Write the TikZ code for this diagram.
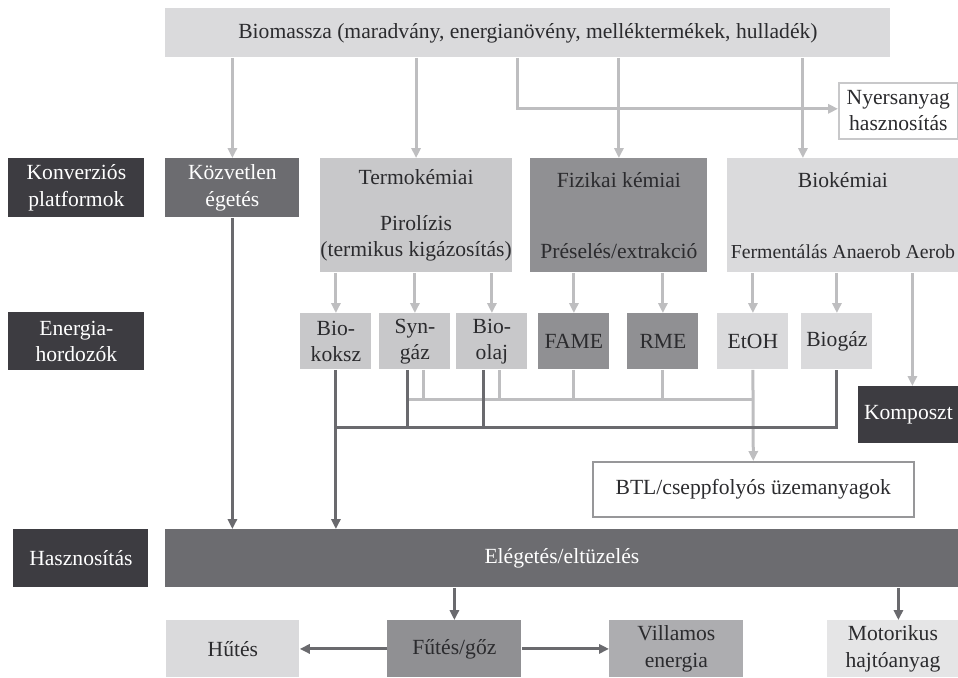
\documentclass[tikz,border=0pt]{standalone}
\usepackage{fontspec}
\setmainfont{Liberation Serif}
\usepackage{xcolor}
\usetikzlibrary{arrows.meta, positioning}
\definecolor{sotet}{HTML}{3D3C41}
\definecolor{kozepsotet}{HTML}{6C6C70}
\definecolor{kozep}{HTML}{909093}
\definecolor{kozepvil}{HTML}{ADADB0}
\definecolor{vilagos}{HTML}{C8C8CA}
\definecolor{halvany}{HTML}{DADADC}
\definecolor{betu}{HTML}{2B2B2E}
\definecolor{nyilvil}{HTML}{BEBEC0}
\definecolor{nyilsot}{HTML}{6A6A6E}

\begin{document}
\begin{tikzpicture}[
  x=0.5pt, y=-0.5pt,
  font=\fontsize{10.8}{13.2}\selectfont,
  doboz/.style={anchor=north west, inner sep=0pt, align=center, text=betu},
  cimke/.style={doboz, fill=sotet, text=white, minimum width=68pt, minimum height=29.5pt},
  kicsi/.style={doboz, minimum width=35.5pt, minimum height=28pt},
  also/.style={doboz, minimum width=67pt, minimum height=28.5pt},
  arrV/.style={-{Triangle[length=5pt, width=4.6pt]}, line width=1.5pt, nyilvil},
  arrS/.style={-{Triangle[length=5pt, width=4.6pt]}, line width=1.5pt, nyilsot},
  vonV/.style={line width=1.5pt, nyilvil},
  vonS/.style={line width=1.5pt, nyilsot},
]
\useasboundingbox (0,0) rectangle (958,677);

% --- Alapanyag ---
\node[doboz, fill=halvany, minimum width=362.5pt, minimum height=24.5pt] (bio) at (165,8)
  {Biomassza (maradvány, energianövény, melléktermékek, hulladék)};
\node[doboz, fill=white, draw=vilagos, line width=0.8pt, minimum width=59.5pt, minimum height=28pt] (nyers) at (838,82)
  {Nyersanyag\\hasznosítás};

% --- Konverziós platformok ---
\node[cimke] (konv) at (8,158) {Konverziós\\platformok};
\node[doboz, fill=kozepsotet, text=white, minimum width=67pt, minimum height=29.5pt] (kozv) at (165,158) {Közvetlen\\égetés};
\node[doboz, fill=vilagos, minimum width=95pt, minimum height=57pt] (termo) at (320,158)
  {Termokémiai\\[10pt]Pirolízis\\(termikus kigázosítás)};
\node[doboz, fill=kozep, minimum width=88.5pt, minimum height=57pt] (fiz) at (530,158)
  {Fizikai kémiai\\[22pt]Préselés/extrakció};
\node[doboz, fill=halvany, minimum width=115.5pt, minimum height=57pt] (biok) at (727,158)
  {Biokémiai\\[22pt]{\fontsize{9.9}{13.2}\selectfont Fermentálás Anaerob Aerob}};

% --- Energiahordozók ---
\node[cimke, minimum height=29pt] (energ) at (8,312) {Energia-\\hordozók};
\node[kicsi, fill=vilagos] (koksz) at (300,313) {Bio-\\koksz};
\node[kicsi, fill=vilagos] (syn) at (379,313) {Syn-\\gáz};
\node[kicsi, fill=vilagos] (olaj) at (456,313) {Bio-\\olaj};
\node[kicsi, fill=kozep] (fame) at (538,313) {FAME};
\node[kicsi, fill=kozep] (rme) at (627,313) {RME};
\node[kicsi, fill=halvany] (etoh) at (717,313) {EtOH};
\node[kicsi, fill=halvany] (biogaz) at (801,313) {Biogáz};
\node[doboz, fill=sotet, text=white, minimum width=50pt, minimum height=28.5pt] (kompost) at (858,386) {Komposzt};
\node[doboz, fill=white, draw=nyilsot!70, line width=0.8pt, minimum width=160.5pt, minimum height=27.5pt] (btl) at (592,461)
  {BTL/cseppfolyós üzemanyagok};

% --- Hasznosítás ---
\node[cimke, minimum width=67.5pt, minimum height=29pt] (haszn) at (13,529) {Hasznosítás};
\node[doboz, fill=kozepsotet, text=white, minimum width=396.5pt, minimum height=29pt] (eleg) at (165,529) {Elégetés/eltüzelés};
\node[also, fill=halvany, minimum width=66.5pt] (hutes) at (166,620) {Hűtés};
\node[also, fill=kozep] (futes) at (387,620) {Fűtés/gőz};
\node[also, fill=kozepvil] (vill) at (609,620) {Villamos\\energia};
\node[also, fill=halvany!70!white, minimum width=65.5pt] (motor) at (827,620) {Motorikus\\hajtóanyag};

% --- Biomasszától a platformokig ---
\draw[arrV] (bio.south -| kozv.north) -- (kozv.north);
\draw[arrV] (bio.south -| termo.north) -- (termo.north);
\draw[arrV] (bio.south -| fiz.north) -- (fiz.north);
\draw[arrV] ([xshift=-20pt]biok.north |- bio.south) -- ([xshift=-20pt]biok.north);
\draw[arrV] ([xshift=-5.25pt]bio.south) |- ([yshift=1pt]nyers.west);

% --- Platformoktól az energiahordozókig ---
\foreach \n in {koksz, syn, olaj}
  \draw[arrV] (termo.south -| \n.north) -- (\n.north);
\foreach \n in {fame, rme}
  \draw[arrV] (fiz.south -| \n.north) -- (\n.north);
\foreach \n in {etoh, biogaz}
  \draw[arrV] (biok.south -| \n.north) -- (\n.north);
\draw[arrV] ([xshift=2pt]biok.south -| kompost.north) -- ([xshift=2pt]kompost.north);

% --- Gyűjtősínek ---
\coordinate (hV) at (407,399);
\coordinate (hS) at (336,427);
\draw[vonV] (hV) -- (hV -| etoh.south);
\foreach \n/\d in {syn/4.25pt, olaj/4pt, fame/0pt, rme/0pt}
  \draw[vonV] ([xshift=\d]\n.south) -- ([xshift=\d]\n.south |- hV);
\draw[arrV] (etoh.south) -- (btl.north);
\draw[vonS] (hS) -- (hS -| biogaz.south) -- (biogaz.south);
\foreach \n/\d in {syn/-3.75pt, olaj/-4pt}
  \draw[vonS] ([xshift=\d]\n.south) -- ([xshift=\d]\n.south |- hS);
\draw[arrS] (koksz.south) -- (koksz.south |- eleg.north);
\draw[arrS] (kozv.south) -- (kozv.south |- eleg.north);

% --- Hasznosítás ---
\draw[arrS] (eleg.south -| futes.north) -- (futes.north);
\draw[arrS] ([xshift=2.75pt]eleg.south -| motor.north) -- ([xshift=2.75pt]motor.north);
\draw[arrS] (futes.west) -- (hutes.east);
\draw[arrS] (futes.east) -- (vill.west);

\end{tikzpicture}
\end{document}
